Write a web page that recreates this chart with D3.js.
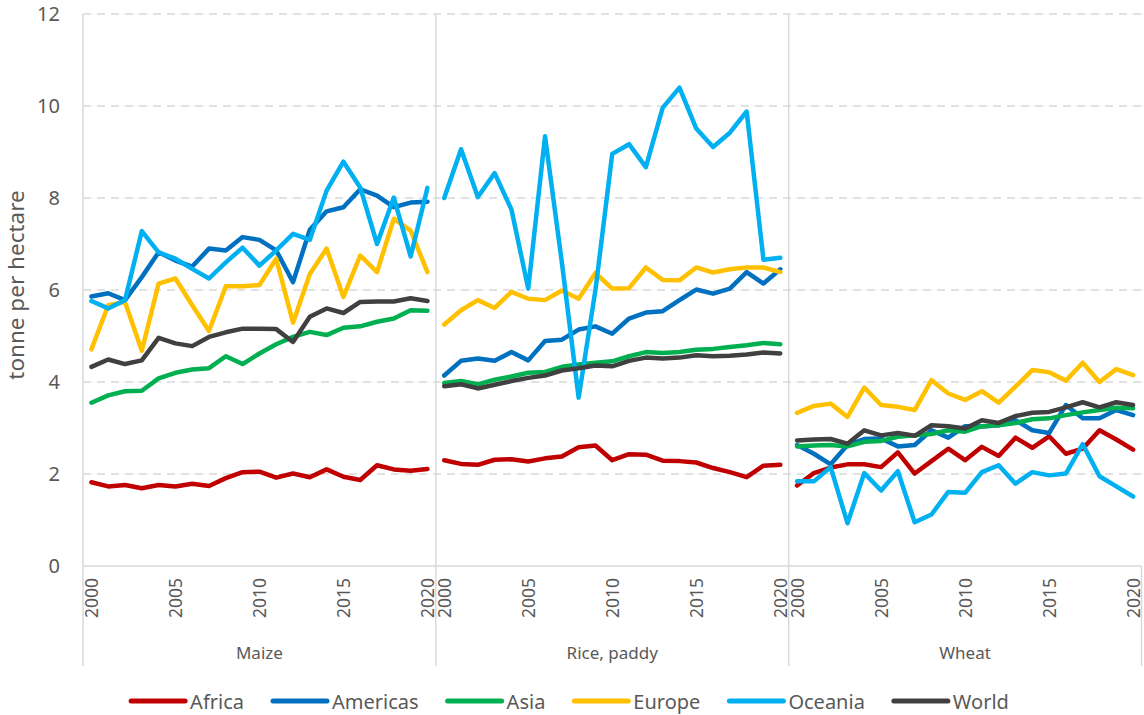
<!DOCTYPE html>
<html>
<head>
<meta charset="utf-8">
<script src="https://cdn.jsdelivr.net/npm/d3@7"></script>
<style>
  html, body { margin: 0; padding: 0; background: #fff; }
  svg { display: block; font-family: "Noto Sans", "Open Sans", sans-serif; }
</style>
</head>
<body>
<svg id="chart" width="1144" height="715"></svg>
<script>
// ---------- data ----------
const crops = ["Maize", "Rice, paddy", "Wheat"];
const years = d3.range(2000, 2021);
const yearTickLabels = [2000, 2005, 2010, 2015, 2020];
const yTicks = [0, 2, 4, 6, 8, 10, 12];
const regions = ["Africa", "Americas", "Asia", "Europe", "Oceania", "World"];
const regionColors = ["#C00000", "#0070C0", "#00B050", "#FFC000", "#00B0F0", "#404040"];

// each series: 21 maize values, 21 rice values, 21 wheat values (2000-2020)
const africa = [
  1.82, 1.73, 1.76, 1.69, 1.76, 1.73, 1.79, 1.74, 1.91, 2.04, 2.05, 1.92, 2.01, 1.93, 2.10, 1.94, 1.87, 2.19, 2.10, 2.07, 2.11,
  2.30, 2.22, 2.20, 2.31, 2.32, 2.27, 2.34, 2.38, 2.58, 2.62, 2.30, 2.43, 2.42, 2.29, 2.28, 2.25, 2.13, 2.04, 1.93, 2.18, 2.20,
  1.75, 2.02, 2.14, 2.21, 2.21, 2.15, 2.47, 2.01, 2.28, 2.55, 2.30, 2.59, 2.39, 2.79, 2.57, 2.82, 2.44, 2.55, 2.95, 2.75, 2.53
];
const americas = [
  5.86, 5.93, 5.78, 6.28, 6.82, 6.64, 6.51, 6.90, 6.86, 7.15, 7.09, 6.86, 6.17, 7.31, 7.71, 7.80, 8.19, 8.05, 7.80, 7.90, 7.92,
  4.14, 4.46, 4.51, 4.46, 4.65, 4.47, 4.89, 4.92, 5.14, 5.21, 5.05, 5.38, 5.51, 5.54, 5.78, 6.01, 5.92, 6.03, 6.39, 6.14, 6.45,
  2.63, 2.44, 2.21, 2.63, 2.76, 2.77, 2.60, 2.63, 2.95, 2.79, 3.04, 3.03, 3.06, 3.17, 2.95, 2.89, 3.50, 3.21, 3.21, 3.39, 3.28
];
const asia = [
  3.55, 3.71, 3.80, 3.81, 4.08, 4.20, 4.27, 4.30, 4.56, 4.39, 4.62, 4.82, 4.98, 5.09, 5.02, 5.18, 5.21, 5.31, 5.38, 5.56, 5.55,
  3.98, 4.02, 3.95, 4.05, 4.12, 4.20, 4.22, 4.33, 4.38, 4.42, 4.45, 4.56, 4.65, 4.63, 4.65, 4.70, 4.72, 4.76, 4.80, 4.85, 4.82,
  2.60, 2.62, 2.63, 2.60, 2.70, 2.72, 2.81, 2.84, 2.87, 2.95, 2.92, 3.04, 3.06, 3.11, 3.19, 3.21, 3.28, 3.34, 3.39, 3.44, 3.43
];
const europe = [
  4.71, 5.67, 5.74, 4.68, 6.14, 6.25, 5.67, 5.11, 6.08, 6.08, 6.11, 6.68, 5.29, 6.35, 6.90, 5.85, 6.75, 6.39, 7.55, 7.29, 6.39,
  5.25, 5.56, 5.78, 5.61, 5.96, 5.81, 5.78, 5.99, 5.81, 6.37, 6.03, 6.04, 6.49, 6.22, 6.21, 6.49, 6.38, 6.45, 6.49, 6.49, 6.39,
  3.33, 3.48, 3.53, 3.24, 3.88, 3.50, 3.46, 3.39, 4.04, 3.75, 3.61, 3.80, 3.55, 3.90, 4.26, 4.21, 4.03, 4.42, 4.00, 4.28, 4.15
];
const oceania = [
  5.76, 5.60, 5.78, 7.28, 6.82, 6.68, 6.46, 6.25, 6.60, 6.92, 6.53, 6.86, 7.22, 7.09, 8.16, 8.79, 8.23, 7.00, 8.01, 6.73, 8.22,
  8.00, 9.06, 8.02, 8.54, 7.75, 6.03, 9.34, 6.60, 3.66, 6.00, 8.96, 9.17, 8.67, 9.96, 10.40, 9.51, 9.11, 9.42, 9.88, 6.66, 6.70,
  1.84, 1.84, 2.15, 0.93, 2.02, 1.64, 2.06, 0.95, 1.12, 1.61, 1.59, 2.04, 2.19, 1.79, 2.04, 1.97, 2.01, 2.65, 1.95, 1.73, 1.51
];
const world = [
  4.33, 4.49, 4.39, 4.47, 4.96, 4.84, 4.78, 4.98, 5.08, 5.16, 5.16, 5.15, 4.87, 5.42, 5.60, 5.50, 5.74, 5.75, 5.75, 5.82, 5.76,
  3.91, 3.95, 3.86, 3.94, 4.02, 4.09, 4.14, 4.25, 4.30, 4.36, 4.34, 4.46, 4.53, 4.51, 4.53, 4.58, 4.56, 4.57, 4.60, 4.64, 4.62,
  2.73, 2.75, 2.76, 2.66, 2.95, 2.84, 2.89, 2.83, 3.06, 3.04, 2.99, 3.17, 3.11, 3.26, 3.33, 3.35, 3.45, 3.56, 3.45, 3.56, 3.50
];
const seriesValues = [africa, americas, asia, europe, oceania, world];
const yLabel = "tonne per hectare";

// ---------- layout ----------
const svg = d3.select("#chart");
const plot = { left: 83, right: 1141.5, top: 14, bottom: 566, axisBottom: 666 };
const textColor = "#595959";
const gridColor = "#D9D9D9";

const keys = [];
crops.forEach(c => years.forEach(y => keys.push(c + "|" + y)));

const x = d3.scaleBand().domain(keys).range([plot.left, plot.right]).padding(0);
const y = d3.scaleLinear().domain([0, 12]).range([plot.bottom, plot.top]);
const cx = k => x(k) + x.bandwidth() / 2;

// gridlines
svg.append("g")
  .selectAll("line")
  .data(yTicks.filter(t => t > 0))
  .join("line")
  .attr("x1", plot.left).attr("x2", plot.right)
  .attr("y1", d => y(d)).attr("y2", d => y(d))
  .attr("stroke", gridColor).attr("stroke-width", 1.3)
  .attr("stroke-dasharray", "8,6");

// y axis labels
const yAxis = d3.axisLeft(y).tickValues(yTicks).tickSize(0).tickPadding(0);
const yg = svg.append("g").attr("transform", `translate(${plot.left - 23},0)`).call(yAxis);
yg.select(".domain").remove();
yg.selectAll("text")
  .attr("fill", textColor).attr("font-size", 20)
  .attr("font-family", "'Noto Sans', sans-serif");

// y title
svg.append("text")
  .attr("transform", `translate(15,285) rotate(-90)`)
  .attr("text-anchor", "middle").attr("dominant-baseline", "central")
  .attr("fill", textColor).attr("font-size", 22.5)
  .text(yLabel);

// x axis (horizontal line)
svg.append("line")
  .attr("x1", plot.left).attr("x2", plot.right)
  .attr("y1", plot.bottom).attr("y2", plot.bottom)
  .attr("stroke", gridColor).attr("stroke-width", 1.5);

// panel separators
const sepX = crops.map(c => x(c + "|2000"));
sepX.forEach(sx => {
  svg.append("line")
    .attr("x1", sx).attr("x2", sx)
    .attr("y1", plot.top).attr("y2", plot.axisBottom)
    .attr("stroke", gridColor).attr("stroke-width", 1.5);
});
svg.append("line")
  .attr("x1", plot.right).attr("x2", plot.right)
  .attr("y1", plot.bottom).attr("y2", plot.axisBottom)
  .attr("stroke", gridColor).attr("stroke-width", 1.5);

// year tick labels
const xAxisG = svg.append("g");
crops.forEach(c => {
  yearTickLabels.forEach(yr => {
    const k = c + "|" + yr;
    xAxisG.append("text")
      .attr("transform", `translate(${cx(k) - 0.5},${plot.bottom + 12}) rotate(-90)`)
      .attr("text-anchor", "end").attr("dominant-baseline", "central")
      .attr("fill", textColor).attr("font-size", 17.5)
      .text(yr);
  });
  // crop label
  const x0 = x(c + "|2000"), x1 = x(c + "|2020") + x.bandwidth();
  xAxisG.append("text")
    .attr("x", (x0 + x1) / 2).attr("y", 652)
    .attr("text-anchor", "middle").attr("dominant-baseline", "central")
    .attr("fill", textColor).attr("font-size", 17)
    .text(c);
});

// lines
const line = d3.line().x(d => cx(d.k)).y(d => y(d.v));
regions.forEach((r, ri) => {
  const vals = seriesValues[ri];
  crops.forEach((c, ci) => {
    const pts = years.map((yr, yi) => ({ k: c + "|" + yr, v: vals[ci * years.length + yi] }));
    svg.append("path")
      .datum(pts)
      .attr("d", line)
      .attr("fill", "none")
      .attr("stroke", regionColors[ri])
      .attr("stroke-width", 4.5)
      .attr("stroke-linejoin", "round")
      .attr("stroke-linecap", "round");
  });
});

// legend
const legend = svg.append("g");
const lineLen = 54, lineGap = 5, itemGap = 29, legendY = 701;
const items = regions.map((r, i) => {
  const g = legend.append("g");
  g.append("line").attr("x1", 0).attr("x2", lineLen)
    .attr("y1", 0).attr("y2", 0)
    .attr("stroke", regionColors[i]).attr("stroke-width", 5)
    .attr("stroke-linecap", "round");
  const t = g.append("text").attr("x", lineLen + lineGap).attr("y", 0)
    .attr("dominant-baseline", "central")
    .attr("fill", textColor).attr("font-size", 20).text(r);
  return { g, w: lineLen + lineGap + t.node().getComputedTextLength() };
});
const total = d3.sum(items, d => d.w) + itemGap * (items.length - 1);
let lx = 570 - total / 2;
items.forEach(it => {
  it.g.attr("transform", `translate(${lx},${legendY})`);
  lx += it.w + itemGap;
});
</script>
</body>
</html>
